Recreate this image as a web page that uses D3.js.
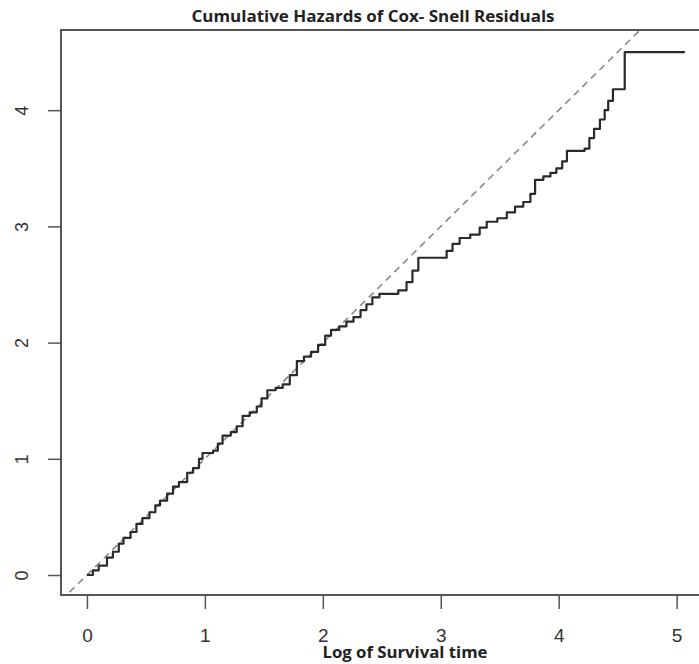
<!doctype html>
<html>
<head>
<meta charset="utf-8">
<script src="https://d3js.org/d3.v7.min.js"></script>
<style>
    body { margin: 0; background: #fff; }
    svg { display: block; }
    .tick text { font-family: "Liberation Sans", Arial, sans-serif; fill: #333; }
</style>
</head>
<body>
<script>

    // step points of the Nelson-Aalen cumulative hazard
    var logTime = [0.00, 0.05, 0.10, 0.17, 0.22, 0.27, 0.31, 0.37, 0.42, 0.47,
        0.53, 0.58, 0.62, 0.68, 0.73, 0.78, 0.85, 0.90, 0.95, 0.98,
        1.07, 1.11, 1.15, 1.22, 1.27, 1.32, 1.38, 1.44, 1.48, 1.53,
        1.60, 1.66, 1.72, 1.78, 1.84, 1.90, 1.96, 2.02, 2.07, 2.14,
        2.20, 2.26, 2.32, 2.37, 2.42, 2.48, 2.57, 2.64, 2.71, 2.76,
        2.81, 2.99, 3.05, 3.10, 3.16, 3.25, 3.33, 3.39, 3.48, 3.56,
        3.63, 3.70, 3.76, 3.80, 3.87, 3.93, 3.98, 4.03, 4.07, 4.22,
        4.26, 4.30, 4.35, 4.39, 4.42, 4.46, 4.56, 5.07];
    var cumHaz = [0.00, 0.04, 0.08, 0.15, 0.20, 0.27, 0.32, 0.37, 0.44, 0.49,
        0.54, 0.60, 0.64, 0.70, 0.76, 0.80, 0.88, 0.92, 1.00, 1.05,
        1.07, 1.13, 1.20, 1.23, 1.28, 1.37, 1.40, 1.45, 1.52, 1.59,
        1.61, 1.64, 1.72, 1.84, 1.88, 1.92, 1.98, 2.06, 2.11, 2.14,
        2.18, 2.22, 2.28, 2.33, 2.39, 2.42, 2.42, 2.45, 2.52, 2.62,
        2.73, 2.73, 2.79, 2.85, 2.90, 2.93, 2.99, 3.04, 3.07, 3.12,
        3.17, 3.21, 3.28, 3.40, 3.43, 3.46, 3.50, 3.56, 3.65, 3.67,
        3.76, 3.84, 3.92, 4.00, 4.08, 4.18, 4.50, 4.50];

    var xTicks = [0, 1, 2, 3, 4, 5];
    var yTicks = [0, 1, 2, 3, 4];

    var data = logTime.map(function (t, i) { return {t: t, h: cumHaz[i]}; });

    var W = 699, H = 664;
    var plotL = 61, plotR = 712, plotT = 30, plotB = 595;

    var svg = d3.select("body")
        .append("svg")
        .attr("width", W)
        .attr("height", H);

    var x = d3.scaleLinear()
        .domain([-0.22, 5.3])
        .range([plotL, plotR]);

    var y = d3.scaleLinear()
        .domain([-0.172, 4.69])
        .range([plotB, plotT]);

    svg.append("clipPath")
        .attr("id", "plotClip")
        .append("rect")
        .attr("x", plotL)
        .attr("y", plotT)
        .attr("width", plotR - plotL)
        .attr("height", plotB - plotT);

    // reference line y = x
    svg.append("line")
        .attr("clip-path", "url(#plotClip)")
        .attr("x1", x(-0.22))
        .attr("y1", y(-0.22))
        .attr("x2", x(5.3))
        .attr("y2", y(5.3))
        .attr("stroke", "#888")
        .attr("stroke-width", 1.6)
        .attr("stroke-dasharray", "7,5");

    // step curve
    var line = d3.line()
        .x(function (d) { return x(d.t); })
        .y(function (d) { return y(d.h); })
        .curve(d3.curveStepAfter);

    svg.append("path")
        .datum(data)
        .attr("fill", "none")
        .attr("stroke", "#2a2a2a")
        .attr("stroke-width", 2.2)
        .attr("stroke-linejoin", "round")
        .attr("d", line);

    // box
    svg.append("rect")
        .attr("x", plotL)
        .attr("y", plotT)
        .attr("width", plotR - plotL)
        .attr("height", plotB - plotT)
        .attr("fill", "none")
        .attr("stroke", "#555")
        .attr("stroke-width", 2);

    // x axis
    var xAxis = svg.append("g")
        .attr("transform", "translate(0," + plotB + ")")
        .call(d3.axisBottom(x).tickValues(xTicks).tickFormat(d3.format("d"))
            .tickSize(14).tickPadding(20));
    xAxis.select(".domain").remove();
    xAxis.selectAll(".tick line").attr("stroke", "#555").attr("stroke-width", 1.5);
    xAxis.selectAll(".tick text").attr("font-size", "19px");

    // y axis
    var yAxis = svg.append("g")
        .attr("transform", "translate(" + plotL + ",0)")
        .call(d3.axisLeft(y).tickValues(yTicks).tickFormat(d3.format("d"))
            .tickSize(13).tickPadding(0));
    yAxis.select(".domain").remove();
    yAxis.selectAll(".tick line").attr("stroke", "#555").attr("stroke-width", 1.5);
    yAxis.selectAll(".tick text")
        .attr("font-size", "18px")
        .attr("text-anchor", "middle")
        .attr("dy", null)
        .attr("x", null)
        .attr("transform", "translate(-39,0) rotate(-90)")
        .attr("y", 0)
        .attr("dominant-baseline", "central");

    // title and axis label
    svg.append("text")
        .attr("x", 373)
        .attr("y", 22)
        .attr("text-anchor", "middle")
        .attr("font-family", "'Open Sans', sans-serif")
        .attr("font-weight", "bold")
        .attr("font-size", "16px")
        .attr("textLength", 363)
        .attr("lengthAdjust", "spacingAndGlyphs")
        .attr("fill", "#222")
        .text("Cumulative Hazards of Cox- Snell Residuals");

    svg.append("text")
        .attr("x", 405)
        .attr("y", 658)
        .attr("text-anchor", "middle")
        .attr("font-family", "'Open Sans', sans-serif")
        .attr("font-weight", "bold")
        .attr("font-size", "16px")
        .attr("textLength", 165)
        .attr("lengthAdjust", "spacingAndGlyphs")
        .attr("fill", "#222")
        .text("Log of Survival time");

</script>
</body>
</html>
